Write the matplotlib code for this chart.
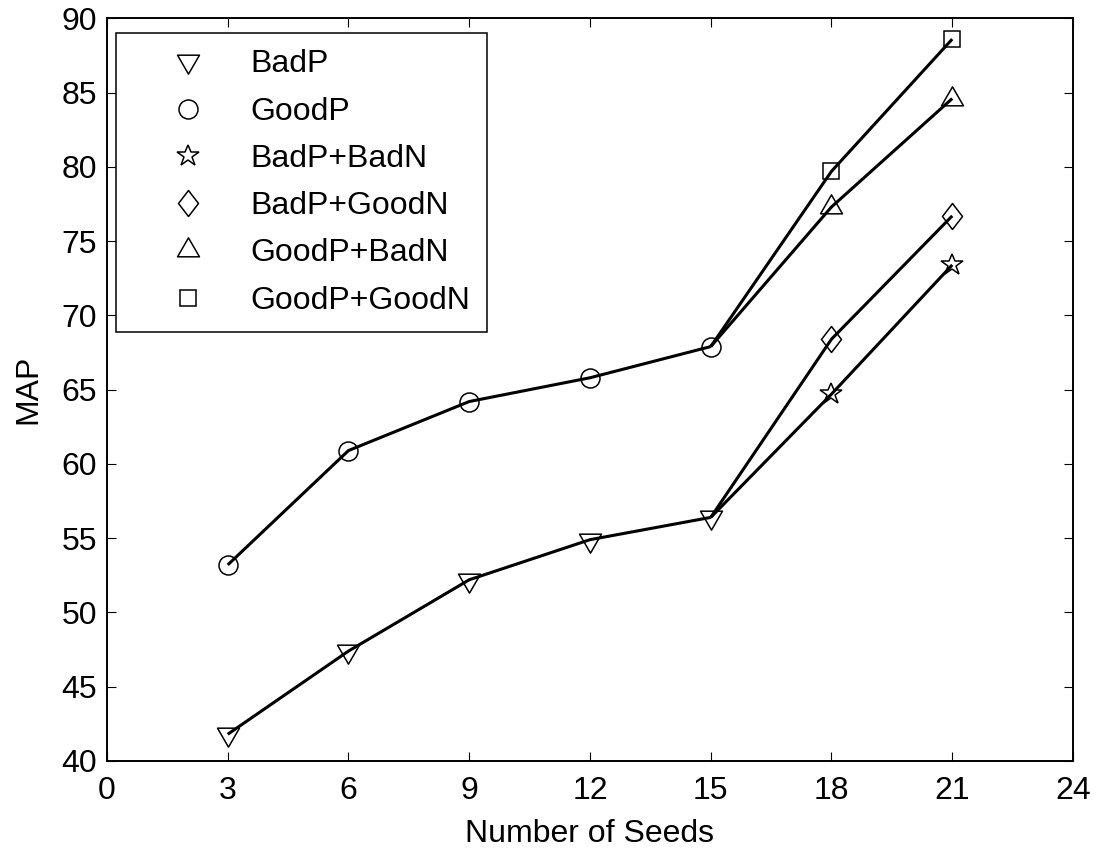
import numpy as np
import matplotlib
matplotlib.use("Agg")
import matplotlib.pyplot as plt
from matplotlib.path import Path

plt.rcParams["font.family"] = ["Liberation Sans", "DejaVu Sans"]
plt.rcParams["font.size"] = 23

# MAP against number of seeds
seeds_base = [3, 6, 9, 12, 15]
seeds_ext = [18, 21]
bad_p = [41.8, 47.4, 52.2, 54.9, 56.4]
good_p = [53.2, 60.9, 64.2, 65.8, 67.9]
bad_p_bad_n = [64.7, 73.4]
bad_p_good_n = [68.4, 76.7]
good_p_bad_n = [77.3, 84.6]
good_p_good_n = [79.7, 88.6]

labels = ["BadP", "GoodP", "BadP+BadN", "BadP+GoodN", "GoodP+BadN", "GoodP+GoodN"]

PX = 0.72  # points per pixel at dpi 100


def closed(verts):
    return Path(list(verts) + [verts[0]], closed=True)


# triangles centred on their centroid, diamond a bit narrower than tall
tri_down = closed([(-11, 6.33), (11, 6.33), (0, -12.67)])
tri_up = closed([(-11, -6.33), (11, -6.33), (0, 12.67)])
diamond = closed([(0, 1), (0.77, 0), (0, -1), (-0.77, 0)])

markers = [
    (tri_down, 25.3 * PX),
    ("o", 19 * PX),
    ("*", 23 * PX),
    (diamond, 26 * PX),
    (tri_up, 25.3 * PX),
    ("s", 16.5 * PX),
]

series = [
    (seeds_base, bad_p),
    (seeds_base, good_p),
    (seeds_ext, bad_p_bad_n),
    (seeds_ext, bad_p_good_n),
    (seeds_ext, good_p_bad_n),
    (seeds_ext, good_p_good_n),
]
# the extended runs continue from the last base point
parents = [None, None, bad_p, bad_p, good_p, good_p]

fig = plt.figure(figsize=(10.96, 8.48), dpi=100)
ax = fig.add_axes([0.0976, 0.1026, 0.9814 - 0.0976 - 0.0024, 0.9784 - 0.1026])

handles = []
for (xs, ys), (mk, ms), lab, parent in zip(series, markers, labels, parents):
    h, = ax.plot(xs, ys, linestyle="none", marker=mk, markersize=ms,
                 markerfacecolor="none", markeredgecolor="black",
                 markeredgewidth=1.1, label=lab, zorder=2)
    handles.append(h)
    if parent is None:
        lx, ly = list(xs), list(ys)
    else:
        lx = [seeds_base[-1]] + list(xs)
        ly = [parent[-1]] + list(ys)
    ax.plot(lx, ly, color="black", linewidth=2.2, solid_capstyle="butt",
            zorder=3)

ax.set_xlim(0, 24)
ax.set_ylim(40, 90)
ax.set_xticks(np.arange(0, 25, 3))
ax.set_yticks(np.arange(40, 91, 5))
ax.tick_params(direction="in", length=6.5, width=0.8, top=True, right=True)
ax.tick_params(axis="x", pad=11)
ax.tick_params(axis="y", pad=7)
for sp in ax.spines.values():
    sp.set_linewidth(1.4)

ax.set_xlabel("Number of Seeds", labelpad=9)
ax.set_ylabel("MAP", labelpad=13)

leg = ax.legend(handles=handles, loc="upper left",
                bbox_to_anchor=(0.0093, 0.980), borderaxespad=0,
                numpoints=1, handlelength=3.5, handletextpad=0.2,
                labelspacing=0.54, borderpad=0.51, fancybox=False,
                edgecolor="black", framealpha=1)
leg.get_frame().set_linewidth(1.1)

fig.savefig("out.png", dpi=100)
